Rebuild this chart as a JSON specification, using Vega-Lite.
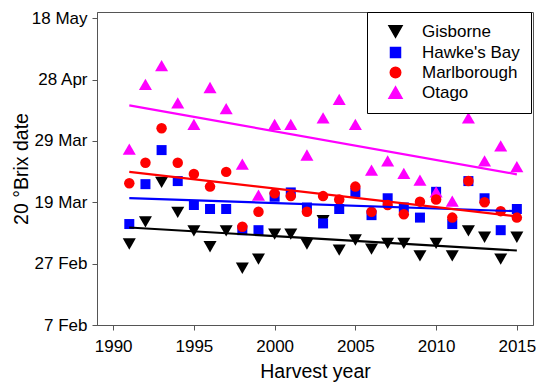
{
  "$schema": "https://vega.github.io/schema/vega-lite/v6.json",
  "width": 436,
  "height": 313,
  "autosize": {"type": "none"},
  "padding": {"left": 97, "top": 12, "right": 3, "bottom": 67},
  "background": "white",
  "config": {
    "font": "Liberation Sans",
    "view": {"stroke": "#555555", "strokeWidth": 1},
    "axis": {
      "grid": false,
      "domainColor": "#555555",
      "tickColor": "#555555",
      "tickSize": 5,
      "labelColor": "black",
      "titleColor": "black",
      "labelFontSize": 17,
      "titleFontSize": 19.5,
      "titleFontWeight": "normal"
    }
  },
  "data": {
    "values": [
      {"year": 1991, "region": "Gisborne", "day": 64.4},
      {"year": 1992, "region": "Gisborne", "day": 71.6},
      {"year": 1993, "region": "Gisborne", "day": 84.5},
      {"year": 1994, "region": "Gisborne", "day": 74.7},
      {"year": 1995, "region": "Gisborne", "day": 68.7},
      {"year": 1996, "region": "Gisborne", "day": 63.5},
      {"year": 1997, "region": "Gisborne", "day": 68.7},
      {"year": 1998, "region": "Gisborne", "day": 56.5},
      {"year": 1999, "region": "Gisborne", "day": 59.5},
      {"year": 2000, "region": "Gisborne", "day": 67.6},
      {"year": 2001, "region": "Gisborne", "day": 67.6},
      {"year": 2002, "region": "Gisborne", "day": 64.4},
      {"year": 2003, "region": "Gisborne", "day": 72.0},
      {"year": 2004, "region": "Gisborne", "day": 62.4},
      {"year": 2005, "region": "Gisborne", "day": 65.7},
      {"year": 2006, "region": "Gisborne", "day": 62.7},
      {"year": 2007, "region": "Gisborne", "day": 64.6},
      {"year": 2008, "region": "Gisborne", "day": 64.6},
      {"year": 2009, "region": "Gisborne", "day": 60.5},
      {"year": 2010, "region": "Gisborne", "day": 64.6},
      {"year": 2011, "region": "Gisborne", "day": 60.5},
      {"year": 2012, "region": "Gisborne", "day": 68.7},
      {"year": 2013, "region": "Gisborne", "day": 66.6},
      {"year": 2014, "region": "Gisborne", "day": 59.5},
      {"year": 2015, "region": "Gisborne", "day": 66.6},
      {"year": 1991, "region": "Hawke's Bay", "day": 70.9},
      {"year": 1992, "region": "Hawke's Bay", "day": 83.9},
      {"year": 1993, "region": "Hawke's Bay", "day": 95.0},
      {"year": 1994, "region": "Hawke's Bay", "day": 84.9},
      {"year": 1995, "region": "Hawke's Bay", "day": 77.1},
      {"year": 1996, "region": "Hawke's Bay", "day": 75.8},
      {"year": 1997, "region": "Hawke's Bay", "day": 75.8},
      {"year": 1998, "region": "Hawke's Bay", "day": 68.9},
      {"year": 1999, "region": "Hawke's Bay", "day": 68.9},
      {"year": 2000, "region": "Hawke's Bay", "day": 79.8},
      {"year": 2001, "region": "Hawke's Bay", "day": 81.2},
      {"year": 2002, "region": "Hawke's Bay", "day": 76.3},
      {"year": 2003, "region": "Hawke's Bay", "day": 71.1},
      {"year": 2004, "region": "Hawke's Bay", "day": 75.8},
      {"year": 2005, "region": "Hawke's Bay", "day": 81.2},
      {"year": 2006, "region": "Hawke's Bay", "day": 73.8},
      {"year": 2007, "region": "Hawke's Bay", "day": 79.3},
      {"year": 2008, "region": "Hawke's Bay", "day": 76.3},
      {"year": 2009, "region": "Hawke's Bay", "day": 73.0},
      {"year": 2010, "region": "Hawke's Bay", "day": 81.4},
      {"year": 2011, "region": "Hawke's Bay", "day": 70.9},
      {"year": 2012, "region": "Hawke's Bay", "day": 84.9},
      {"year": 2013, "region": "Hawke's Bay", "day": 79.3},
      {"year": 2014, "region": "Hawke's Bay", "day": 68.9},
      {"year": 2015, "region": "Hawke's Bay", "day": 75.8},
      {"year": 1991, "region": "Otago", "day": 95.3},
      {"year": 1992, "region": "Otago", "day": 116.4},
      {"year": 1993, "region": "Otago", "day": 122.5},
      {"year": 1994, "region": "Otago", "day": 110.4},
      {"year": 1995, "region": "Otago", "day": 103.4},
      {"year": 1996, "region": "Otago", "day": 115.4},
      {"year": 1997, "region": "Otago", "day": 108.5},
      {"year": 1998, "region": "Otago", "day": 90.4},
      {"year": 1999, "region": "Otago", "day": 80.3},
      {"year": 2000, "region": "Otago", "day": 103.4},
      {"year": 2001, "region": "Otago", "day": 103.4},
      {"year": 2002, "region": "Otago", "day": 93.4},
      {"year": 2003, "region": "Otago", "day": 105.5},
      {"year": 2004, "region": "Otago", "day": 111.5},
      {"year": 2005, "region": "Otago", "day": 103.4},
      {"year": 2006, "region": "Otago", "day": 88.5},
      {"year": 2007, "region": "Otago", "day": 91.5},
      {"year": 2008, "region": "Otago", "day": 87.4},
      {"year": 2009, "region": "Otago", "day": 85.2},
      {"year": 2010, "region": "Otago", "day": 81.4},
      {"year": 2011, "region": "Otago", "day": 78.4},
      {"year": 2012, "region": "Otago", "day": 105.5},
      {"year": 2013, "region": "Otago", "day": 91.5},
      {"year": 2014, "region": "Otago", "day": 96.4},
      {"year": 2015, "region": "Otago", "day": 89.6},
      {"year": 1991, "region": "Marlborough", "day": 84.2},
      {"year": 1992, "region": "Marlborough", "day": 90.9},
      {"year": 1993, "region": "Marlborough", "day": 102.1},
      {"year": 1994, "region": "Marlborough", "day": 90.9},
      {"year": 1995, "region": "Marlborough", "day": 87.2},
      {"year": 1996, "region": "Marlborough", "day": 83.1},
      {"year": 1997, "region": "Marlborough", "day": 87.9},
      {"year": 1998, "region": "Marlborough", "day": 70.0},
      {"year": 1999, "region": "Marlborough", "day": 74.9},
      {"year": 2000, "region": "Marlborough", "day": 80.9},
      {"year": 2001, "region": "Marlborough", "day": 80.0},
      {"year": 2002, "region": "Marlborough", "day": 74.9},
      {"year": 2003, "region": "Marlborough", "day": 80.0},
      {"year": 2004, "region": "Marlborough", "day": 78.9},
      {"year": 2005, "region": "Marlborough", "day": 83.1},
      {"year": 2006, "region": "Marlborough", "day": 74.9},
      {"year": 2007, "region": "Marlborough", "day": 77.1},
      {"year": 2008, "region": "Marlborough", "day": 74.1},
      {"year": 2009, "region": "Marlborough", "day": 78.2},
      {"year": 2010, "region": "Marlborough", "day": 78.9},
      {"year": 2011, "region": "Marlborough", "day": 73.0},
      {"year": 2012, "region": "Marlborough", "day": 84.9},
      {"year": 2013, "region": "Marlborough", "day": 78.0},
      {"year": 2014, "region": "Marlborough", "day": 75.1},
      {"year": 2015, "region": "Marlborough", "day": 73.0}
    ]
  },
  "encoding": {
    "x": {
      "field": "year",
      "type": "quantitative",
      "scale": {"domain": [1989, 2016], "nice": false, "zero": false},
      "axis": {
        "title": "Harvest year",
        "values": [1990, 1995, 2000, 2005, 2010, 2015],
        "format": "d",
        "labelPadding": 8,
        "titlePadding": 8
      }
    },
    "y": {
      "field": "day",
      "type": "quantitative",
      "scale": {"domain": [38, 140], "nice": false, "zero": false},
      "axis": {
        "title": "20 °Brix date",
        "values": [38, 58, 78, 98, 118, 138],
        "labelExpr": "datum.value == 38 ? '7 Feb' : datum.value == 58 ? '27 Feb' : datum.value == 78 ? '19 Mar' : datum.value == 98 ? '29 Mar' : datum.value == 118 ? '28 Apr' : '18 May'",
        "labelPadding": 5,
        "titlePadding": 0
      }
    }
  },
  "layer": [
    {
      "mark": {"type": "point", "filled": true, "opacity": 1},
      "encoding": {
        "color": {
          "field": "region",
          "type": "nominal",
          "scale": {
            "domain": ["Gisborne", "Hawke's Bay", "Marlborough", "Otago"],
            "range": ["#000000", "#0000ff", "#ff0000", "#ff00ff"]
          },
          "legend": {
            "title": null,
            "orient": "none",
            "legendX": 270,
            "legendY": 0,
            "strokeColor": "black",
            "fillColor": "white",
            "padding": 11,
            "labelFontSize": 17,
            "labelColor": "black",
            "symbolSize": 130,
            "symbolOffset": 9,
            "labelOffset": 18,
            "rowPadding": 2,
            "symbolOpacity": 1
          }
        },
        "shape": {
          "field": "region",
          "type": "nominal",
          "scale": {
            "domain": ["Gisborne", "Hawke's Bay", "Marlborough", "Otago"],
            "range": ["triangle-down", "square", "circle", "triangle-up"]
          }
        },
        "size": {
          "field": "region",
          "type": "nominal",
          "scale": {
            "type": "ordinal",
            "domain": ["Gisborne", "Hawke's Bay", "Marlborough", "Otago"],
            "range": [170, 100, 110, 170]
          },
          "legend": null
        }
      }
    },
    {
      "transform": [
        {"regression": "day", "on": "year", "groupby": ["region"], "extent": [1991, 2015]}
      ],
      "mark": {"type": "line", "strokeWidth": 2.2},
      "encoding": {
        "stroke": {
          "field": "region",
          "type": "nominal",
          "scale": {
            "domain": ["Gisborne", "Hawke's Bay", "Marlborough", "Otago"],
            "range": ["#000000", "#0000ff", "#ff0000", "#ff00ff"]
          },
          "legend": null
        }
      }
    }
  ]
}
